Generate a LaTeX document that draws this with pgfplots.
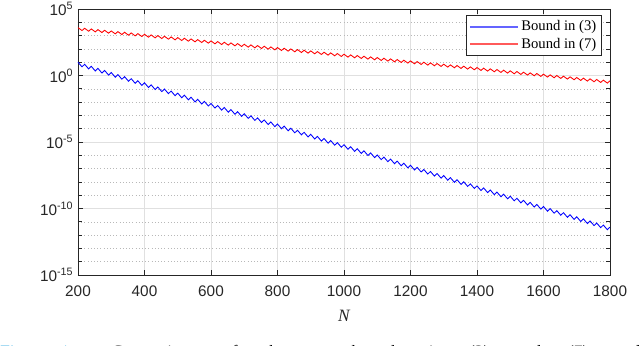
\documentclass[border=0pt]{standalone}
\usepackage{pgfplots}
\pgfplotsset{compat=1.18}
\usepackage{fontspec}
\setmainfont{Liberation Sans}
\newfontfamily\timesfont{Liberation Serif}
\definecolor{axgray}{gray}{0.15}
\definecolor{gridmaj}{gray}{0.88}
\definecolor{gridmin}{gray}{0.72}
\definecolor{figblue}{RGB}{0,150,220}
\definecolor{legblue}{RGB}{100,100,255}
\definecolor{legred}{RGB}{255,90,90}

% values are log10 of the bounds
\pgfplotstableread{
N logb
200 1.000
212 0.650
220 0.845
232 0.495
240 0.690
252 0.340
260 0.535
272 0.185
280 0.380
292 0.030
300 0.225
312 -0.125
320 0.070
332 -0.280
340 -0.085
352 -0.435
360 -0.240
372 -0.590
380 -0.395
392 -0.745
400 -0.550
412 -0.900
420 -0.705
432 -1.055
440 -0.860
452 -1.210
460 -1.015
472 -1.365
480 -1.170
492 -1.520
500 -1.325
512 -1.675
520 -1.480
532 -1.830
540 -1.635
552 -1.985
560 -1.790
572 -2.140
580 -1.945
592 -2.295
600 -2.100
612 -2.450
620 -2.255
632 -2.605
640 -2.410
652 -2.760
660 -2.565
672 -2.915
680 -2.720
692 -3.070
700 -2.875
712 -3.225
720 -3.030
732 -3.380
740 -3.185
752 -3.535
760 -3.340
772 -3.690
780 -3.495
792 -3.845
800 -3.650
812 -4.000
820 -3.805
832 -4.155
840 -3.960
852 -4.310
860 -4.115
872 -4.465
880 -4.270
892 -4.620
900 -4.425
912 -4.775
920 -4.580
932 -4.930
940 -4.735
952 -5.085
960 -4.890
972 -5.240
980 -5.045
992 -5.395
1000 -5.200
1012 -5.550
1020 -5.355
1032 -5.705
1040 -5.510
1052 -5.860
1060 -5.665
1072 -6.015
1080 -5.820
1092 -6.170
1100 -5.975
1112 -6.325
1120 -6.130
1132 -6.480
1140 -6.285
1152 -6.635
1160 -6.440
1172 -6.790
1180 -6.595
1192 -6.945
1200 -6.750
1212 -7.100
1220 -6.905
1232 -7.255
1240 -7.060
1252 -7.410
1260 -7.215
1272 -7.565
1280 -7.370
1292 -7.720
1300 -7.525
1312 -7.875
1320 -7.680
1332 -8.030
1340 -7.835
1352 -8.185
1360 -7.990
1372 -8.340
1380 -8.145
1392 -8.495
1400 -8.300
1412 -8.650
1420 -8.455
1432 -8.805
1440 -8.610
1452 -8.960
1460 -8.765
1472 -9.115
1480 -8.920
1492 -9.270
1500 -9.075
1512 -9.425
1520 -9.230
1532 -9.580
1540 -9.385
1552 -9.735
1560 -9.540
1572 -9.890
1580 -9.695
1592 -10.045
1600 -9.850
1612 -10.200
1620 -10.005
1632 -10.355
1640 -10.160
1652 -10.510
1660 -10.315
1672 -10.665
1680 -10.470
1692 -10.820
1700 -10.625
1712 -10.975
1720 -10.780
1732 -11.130
1740 -10.935
1752 -11.285
1760 -11.090
1772 -11.440
1780 -11.245
1792 -11.595
1800 -11.400
}\boundthree

\pgfplotstableread{
N logb
200 3.60
212 3.38
220 3.55
232 3.33
240 3.50
252 3.28
260 3.45
272 3.23
280 3.40
292 3.18
300 3.35
312 3.13
320 3.30
332 3.08
340 3.25
352 3.03
360 3.20
372 2.98
380 3.15
392 2.93
400 3.10
412 2.88
420 3.05
432 2.83
440 3.00
452 2.78
460 2.95
472 2.73
480 2.90
492 2.68
500 2.85
512 2.63
520 2.80
532 2.58
540 2.75
552 2.53
560 2.70
572 2.48
580 2.65
592 2.43
600 2.60
612 2.38
620 2.55
632 2.33
640 2.50
652 2.28
660 2.45
672 2.23
680 2.40
692 2.18
700 2.35
712 2.13
720 2.30
732 2.08
740 2.25
752 2.03
760 2.20
772 1.98
780 2.15
792 1.93
800 2.10
812 1.88
820 2.05
832 1.83
840 2.00
852 1.78
860 1.95
872 1.73
880 1.90
892 1.68
900 1.85
912 1.63
920 1.80
932 1.58
940 1.75
952 1.53
960 1.70
972 1.48
980 1.65
992 1.43
1000 1.60
1012 1.38
1020 1.55
1032 1.33
1040 1.50
1052 1.28
1060 1.45
1072 1.23
1080 1.40
1092 1.18
1100 1.35
1112 1.13
1120 1.30
1132 1.08
1140 1.25
1152 1.03
1160 1.20
1172 0.98
1180 1.15
1192 0.93
1200 1.10
1212 0.88
1220 1.05
1232 0.83
1240 1.00
1252 0.78
1260 0.95
1272 0.73
1280 0.90
1292 0.68
1300 0.85
1312 0.63
1320 0.80
1332 0.58
1340 0.75
1352 0.53
1360 0.70
1372 0.48
1380 0.65
1392 0.43
1400 0.60
1412 0.38
1420 0.55
1432 0.33
1440 0.50
1452 0.28
1460 0.45
1472 0.23
1480 0.40
1492 0.18
1500 0.35
1512 0.13
1520 0.30
1532 0.08
1540 0.25
1552 0.03
1560 0.20
1572 -0.02
1580 0.15
1592 -0.07
1600 0.10
1612 -0.12
1620 0.05
1632 -0.17
1640 0.00
1652 -0.22
1660 -0.05
1672 -0.27
1680 -0.10
1692 -0.32
1700 -0.15
1712 -0.37
1720 -0.20
1732 -0.42
1740 -0.25
1752 -0.47
1760 -0.30
1772 -0.52
1780 -0.35
1792 -0.57
1800 -0.40
}\boundseven

\begin{document}
\begin{tikzpicture}
\begin{axis}[
    name=ax,
    scale only axis,
    width=399pt, height=199.5pt,
    xmin=200, xmax=1800,
    ymin=-15, ymax=5,
    xtick={200,400,...,1800},
    ytick={-15,-10,-5,0,5},
    yticklabels={10\textsuperscript{-15},10\textsuperscript{-10},10\textsuperscript{-5},10\textsuperscript{0},10\textsuperscript{5}},
    minor y tick num=4,
    /pgf/number format/assume math mode=true,
    /pgf/number format/1000 sep={},
    tick align=inside,
    major tick length=4pt,
    minor tick length=3pt,
    axis line style={axgray, line width=0.6pt},
    every tick/.style={axgray, line width=0.5pt},
    ticklabel style={font=\fontsize{11.5}{13}\selectfont, text=axgray},
    xticklabel style={yshift=-4.5pt},
    grid=both,
    major grid style={gridmaj, line width=0.5pt},
    minor grid style={gridmin, line width=0.4pt, dotted},
    xlabel={\timesfont\itshape N},
    xlabel style={font=\fontsize{13}{15}\selectfont, text=axgray, yshift=-3pt},
    legend style={draw=axgray, fill=white, line width=0.5pt,
        font=\timesfont\fontsize{11}{13}\selectfont,
        at={(1,1)}, xshift=-6pt, yshift=-4.5pt, anchor=north east,
        inner xsep=2pt, inner ysep=2pt, row sep=0pt},
    legend cell align=left,
]
\addplot[color=blue, line width=0.65pt,
    legend image code/.code={\draw[draw=legblue, line width=1.3pt] (0pt,0pt) -- (36pt,0pt);}]
    table[x=N, y=logb] {\boundthree};
\addlegendentry{Bound in (3)}
\addplot[color=red, line width=0.65pt,
    legend image code/.code={\draw[draw=legred, line width=1.3pt] (0pt,0pt) -- (36pt,0pt);}]
    table[x=N, y=logb] {\boundseven};
\addlegendentry{Bound in (7)}
\end{axis}
\pgfresetboundingbox
\path[use as bounding box] ([shift={(-58.5pt,-53.25pt)}]ax.south west) rectangle ([shift={(22.5pt,6.75pt)}]ax.north east);
\node[anchor=base west, inner sep=0pt] at ([shift={(-58.5pt,-62pt)}]ax.south west)
  {\timesfont\fontsize{13}{15}\selectfont\makebox[480pt][s]{\textcolor{figblue}{Fig. 1:} \ Comparison \ of \ the \ two bounds \ in \ (3) \ and \ (7) \ and}};
\end{tikzpicture}
\end{document}
